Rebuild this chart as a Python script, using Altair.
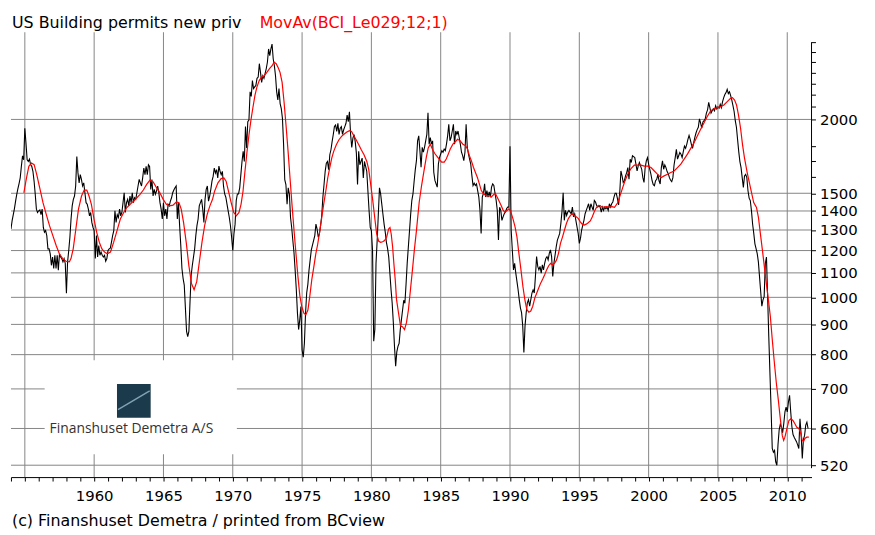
import altair as alt
import pandas as pd

# ---------------- data ----------------
START_YEAR = 1954  # monthly series, first value = Jan 1954

permits_1954_1963 = [
    1305, 1348, 1380, 1413, 1455, 1494, 1527, 1558, 1593, 1666, 1735, 1709,
    1933, 1822, 1709, 1698, 1713, 1677, 1666, 1634, 1573, 1494, 1410, 1392,
    1401, 1406, 1380, 1410, 1313, 1289, 1297, 1272, 1208, 1208, 1185, 1133,
    1170, 1119, 1178, 1119, 1178, 1112, 1185, 1170, 1163, 1148, 1163, 1141,
    1016, 1148, 1200, 1264, 1357, 1428, 1465, 1484, 1543, 1731, 1624, 1562,
    1613, 1583, 1543, 1562, 1503, 1446, 1437, 1410, 1374, 1392, 1339, 1313,
    1297, 1163, 1272, 1170, 1224, 1178, 1193, 1178, 1170, 1178, 1151, 1163,
    1200, 1208, 1211, 1240, 1272, 1297, 1401, 1339, 1380, 1365, 1410, 1374,
    1392, 1446, 1503, 1392, 1446, 1465, 1428, 1484, 1446, 1503, 1446, 1474,
    1465, 1503, 1543, 1583, 1562, 1543, 1593, 1655, 1613, 1666, 1613, 1677,
]
permits_1964_1973 = [
    1666, 1523, 1583, 1484, 1523, 1494, 1513, 1543, 1503, 1446, 1410, 1357,
    1446, 1374, 1410, 1357, 1437, 1428, 1455, 1474, 1503, 1519, 1533, 1543,
    1357, 1446, 1322, 1224, 1119, 1077, 1049, 959, 876, 858, 876, 984,
    1091, 1133, 1170, 1208, 1272, 1322, 1357, 1428, 1446, 1465, 1410, 1339,
    1465, 1523, 1543, 1455, 1484, 1523, 1573, 1602, 1655, 1623, 1645, 1592,
    1667, 1634, 1613, 1634, 1542, 1496, 1477, 1438, 1401, 1365, 1322, 1264,
    1200, 1280, 1330, 1458, 1496, 1496, 1532, 1613, 1698, 1766, 1698, 1945,
    1790, 1983, 1995, 2227, 2187, 2327, 2256, 2270, 2283, 2347, 2359, 2485,
    2402, 2311, 2371, 2347, 2392, 2438, 2501, 2632, 2565, 2632, 2682, 2533,
    2466, 2371, 2227, 2157, 2255, 2127, 2086, 2008, 1812, 1582, 1552, 1438,
]
permits_1974_1983 = [
    1532, 1496, 1365, 1313, 1248, 1190, 1112, 1031, 940, 882, 917, 965,
    815, 792, 836, 940, 1018, 1052, 1112, 1157, 1203, 1226, 1248, 1272,
    1330, 1305, 1264, 1280, 1322, 1374, 1477, 1552, 1634, 1687, 1698, 1645,
    1743, 1777, 1834, 1886, 1945, 1957, 1909, 1970, 1886, 1933, 1945, 1886,
    1921, 1945, 1970, 2034, 1983, 2061, 1886, 1794, 1859, 1886, 1834, 1754,
    1552, 1766, 1676, 1698, 1720, 1592, 1698, 1665, 1634, 1512, 1401, 1313,
    1297, 1200, 843, 882, 1142, 1248, 1382, 1532, 1496, 1438, 1382, 1330,
    1289, 1239, 1210, 1171, 1099, 1031, 977, 906, 826, 765, 809, 826,
    836, 882, 917, 952, 989, 977, 1052, 1142, 1218, 1297, 1382, 1458,
    1496, 1572, 1645, 1703, 1840, 1876, 1771, 1660, 1794, 1760, 1794, 1840,
]
permits_1984_1993 = [
    1887, 2052, 1816, 1864, 1816, 1840, 1628, 1577, 1556, 1536, 1681, 1725,
    1748, 1771, 1760, 1782, 1771, 1816, 1876, 1962, 1840, 1864, 1912, 1962,
    1816, 1912, 1887, 1912, 1864, 1816, 1760, 1737, 1703, 1760, 1962, 1794,
    1748, 1714, 1681, 1607, 1546, 1560, 1546, 1556, 1516, 1478, 1403, 1283,
    1478, 1500, 1556, 1478, 1516, 1478, 1508, 1478, 1536, 1556, 1546, 1500,
    1459, 1403, 1250, 1421, 1403, 1350, 1368, 1385, 1394, 1412, 1421, 1421,
    1801, 1300, 1203, 1113, 1142, 1099, 1064, 1030, 991, 960, 942, 895,
    807, 895, 942, 979, 991, 966, 991, 1017, 1030, 1017, 1085, 1172,
    1128, 1113, 1128, 1099, 1135, 1113, 1142, 1164, 1172, 1157, 1187, 1203,
    1172, 1085, 1142, 1179, 1218, 1250, 1266, 1283, 1333, 1398, 1503, 1350,
]
permits_1994_2003 = [
    1403, 1376, 1394, 1403, 1394, 1385, 1421, 1368, 1385, 1350, 1316, 1283,
    1234, 1258, 1300, 1325, 1350, 1385, 1403, 1421, 1440, 1403, 1440, 1421,
    1403, 1459, 1450, 1430, 1421, 1430, 1421, 1394, 1421, 1403, 1421, 1412,
    1421, 1403, 1440, 1421, 1440, 1450, 1478, 1500, 1500, 1469, 1433, 1505,
    1636, 1605, 1565, 1575, 1605, 1626, 1658, 1584, 1713, 1691, 1736, 1730,
    1724, 1680, 1636, 1669, 1691, 1669, 1647, 1594, 1565, 1658, 1702, 1724,
    1680, 1647, 1615, 1575, 1551, 1545, 1575, 1584, 1615, 1575, 1555, 1658,
    1702, 1647, 1675, 1658, 1632, 1619, 1594, 1578, 1570, 1594, 1675, 1724,
    1780, 1713, 1736, 1758, 1747, 1724, 1764, 1803, 1787, 1815, 1850, 1879,
    1850, 1815, 1787, 1827, 1865, 1897, 1922, 1940, 2005, 1972, 1934, 1980,
]
permits_2004_2011 = [
    1990, 2005, 2050, 2076, 2138, 2094, 2050, 2068, 2084, 2068, 2110, 2084,
    2100, 2089, 2121, 2094, 2144, 2177, 2204, 2220, 2249, 2212, 2228, 2194,
    2157, 2110, 2063, 1990, 1940, 1850, 1764, 1697, 1658, 1594, 1535, 1605,
    1615, 1594, 1515, 1472, 1458, 1402, 1331, 1283, 1232, 1209, 1186, 1148,
    1083, 1022, 966, 990, 1003, 1141, 1170, 1003, 859, 745, 648, 555,
    547, 551, 527, 520, 564, 597, 610, 603, 590, 612, 640, 652,
    640, 665, 683, 640, 604, 586, 580, 575, 570, 563, 555, 623,
    588, 534, 575, 584, 608, 615, 600,
]

# 12-month moving average line, read as (year, value) points
movav_year = [
    1954.93, 1955.12, 1955.29, 1955.48, 1955.67, 1955.86, 1956.07, 1956.31, 1956.54, 1956.78,
    1957.02, 1957.26, 1957.49, 1957.73, 1957.97, 1958.21, 1958.33, 1958.49, 1958.68, 1958.87,
    1959.09, 1959.28, 1959.47, 1959.63, 1959.80, 1959.99, 1960.18, 1960.37, 1960.56, 1960.75,
    1960.94, 1961.18, 1961.41, 1961.65, 1961.89, 1962.13, 1962.36, 1962.60, 1962.84, 1963.08,
    1963.31, 1963.55, 1963.79, 1964.03, 1964.26, 1964.50, 1964.74, 1964.98, 1965.21, 1965.45,
    1965.69, 1965.93, 1966.12, 1966.28, 1966.45, 1966.64, 1966.83, 1967.02, 1967.21, 1967.40,
    1967.59, 1967.78, 1967.97, 1968.16, 1968.35, 1968.54, 1968.69, 1968.93, 1969.16, 1969.36,
    1969.52, 1969.69, 1969.88, 1970.07, 1970.26, 1970.45, 1970.60, 1970.74, 1970.88, 1971.03,
    1971.17, 1971.31, 1971.46, 1971.60, 1971.74, 1971.91, 1972.08, 1972.27, 1972.46, 1972.65,
    1972.84, 1972.98, 1973.13, 1973.27, 1973.41, 1973.56, 1973.70, 1973.84, 1973.99, 1974.13,
    1974.27, 1974.42, 1974.56, 1974.70, 1974.84, 1974.99, 1975.13, 1975.27, 1975.42, 1975.56,
    1975.70, 1975.85, 1975.99, 1976.13, 1976.28, 1976.42, 1976.56, 1976.71, 1976.85, 1976.99,
    1977.14, 1977.28, 1977.47, 1977.66, 1977.85, 1978.04, 1978.23, 1978.42, 1978.57, 1978.71,
    1978.90, 1979.09, 1979.28, 1979.47, 1979.67, 1979.81, 1979.95, 1980.10, 1980.24, 1980.38,
    1980.53, 1980.67, 1980.81, 1980.95, 1981.10, 1981.24, 1981.34, 1981.43, 1981.53, 1981.62,
    1981.72, 1981.81, 1981.96, 1982.10, 1982.24, 1982.39, 1982.53, 1982.67, 1982.82, 1982.96,
    1983.10, 1983.25, 1983.45, 1983.62, 1983.80, 1983.96, 1984.10, 1984.25, 1984.45, 1984.60,
    1984.79, 1984.93, 1985.07, 1985.26, 1985.40, 1985.55, 1985.69, 1985.88, 1986.07, 1986.21,
    1986.40, 1986.60, 1986.79, 1986.93, 1987.07, 1987.21, 1987.36, 1987.50, 1987.64, 1987.79,
    1987.93, 1988.07, 1988.21, 1988.36, 1988.50, 1988.64, 1988.79, 1988.93, 1989.07, 1989.21,
    1989.36, 1989.50, 1989.64, 1989.79, 1989.93, 1990.07, 1990.21, 1990.36, 1990.50, 1990.64,
    1990.79, 1990.93, 1991.07, 1991.21, 1991.36, 1991.50, 1991.64, 1991.79, 1991.93, 1992.07,
    1992.21, 1992.36, 1992.50, 1992.64, 1992.79, 1992.93, 1993.07, 1993.21, 1993.36, 1993.50,
    1993.64, 1993.79, 1993.93, 1994.07, 1994.21, 1994.36, 1994.50, 1994.64, 1994.79, 1994.93,
    1995.07, 1995.21, 1995.36, 1995.50, 1995.64, 1995.79, 1995.93, 1996.07, 1996.21, 1996.36,
    1996.50, 1996.64, 1996.79, 1996.93, 1997.07, 1997.21, 1997.36, 1997.54, 1997.78, 1998.01,
    1998.25, 1998.49, 1998.73, 1998.97, 1999.21, 1999.45, 1999.69, 1999.93, 2000.17, 2000.41,
    2000.65, 2000.89, 2001.12, 2001.36, 2001.60, 2001.84, 2002.08, 2002.32, 2002.56, 2002.80,
    2003.04, 2003.28, 2003.52, 2003.76, 2003.99, 2004.23, 2004.47, 2004.71, 2004.95, 2005.19,
    2005.43, 2005.67, 2005.91, 2006.05, 2006.20, 2006.34, 2006.48, 2006.63, 2006.77, 2006.91,
    2007.11, 2007.34, 2007.58, 2007.78, 2007.92, 2008.06, 2008.21, 2008.35, 2008.49, 2008.64,
    2008.78, 2008.92, 2009.07, 2009.21, 2009.35, 2009.50, 2009.64, 2009.74, 2009.83, 2009.98,
    2010.12, 2010.26, 2010.41, 2010.55, 2010.69, 2010.84, 2010.98, 2011.08, 2011.17, 2011.27,
    2011.41, 2011.56,
]
movav_value = [
    1503, 1593, 1666, 1688, 1677, 1613, 1533, 1446, 1383, 1322,
    1272, 1224, 1185, 1163, 1151, 1148, 1163, 1208, 1305, 1410,
    1484, 1519, 1519, 1484, 1437, 1357, 1289, 1240, 1208, 1193,
    1185, 1193, 1240, 1297, 1357, 1392, 1419, 1437, 1455, 1474,
    1494, 1519, 1553, 1579, 1567, 1533, 1503, 1465, 1437, 1428,
    1432, 1450, 1446, 1410, 1339, 1240, 1133, 1056, 1030, 1063,
    1148, 1240, 1322, 1383, 1428, 1465, 1512, 1562, 1588, 1592,
    1572, 1512, 1448, 1392, 1374, 1392, 1438, 1512, 1634, 1766,
    1884, 1995, 2099, 2197, 2268, 2327, 2359, 2371, 2402, 2438,
    2466, 2501, 2485, 2449, 2402, 2310, 2141, 1957, 1766, 1592,
    1438, 1297, 1185, 1085, 1006, 962, 940, 934, 952, 1006,
    1071, 1127, 1185, 1231, 1297, 1365, 1438, 1512, 1592, 1655,
    1720, 1766, 1812, 1848, 1872, 1890, 1904, 1914, 1909, 1880,
    1848, 1812, 1775, 1743, 1698, 1645, 1552, 1458, 1365, 1280,
    1244, 1239, 1242, 1248, 1264, 1305, 1313, 1280, 1218, 1142,
    1071, 993, 940, 894, 892, 882, 906, 952, 1031, 1112,
    1203, 1297, 1450, 1545, 1640, 1725, 1790, 1816, 1771, 1748,
    1725, 1708, 1694, 1694, 1714, 1748, 1782, 1816, 1835, 1851,
    1840, 1816, 1805, 1782, 1737, 1703, 1660, 1628, 1597, 1556,
    1516, 1500, 1490, 1484, 1488, 1478, 1490, 1500, 1478, 1455,
    1430, 1405, 1392, 1403, 1412, 1392, 1359, 1317, 1266, 1187,
    1113, 1043, 991, 954, 944, 948, 966, 998, 1017, 1037,
    1057, 1074, 1092, 1113, 1131, 1142, 1135, 1142, 1157, 1187,
    1234, 1266, 1300, 1333, 1359, 1376, 1385, 1376, 1368, 1359,
    1342, 1330, 1325, 1330, 1337, 1347, 1368, 1394, 1416, 1430,
    1430, 1421, 1421, 1424, 1421, 1421, 1424, 1420, 1447, 1504,
    1564, 1615, 1652, 1674, 1674, 1674, 1667, 1667, 1658, 1636,
    1615, 1594, 1605, 1615, 1626, 1636, 1658, 1680, 1713, 1747,
    1787, 1827, 1876, 1927, 1972, 2023, 2068, 2084, 2094, 2102,
    2116, 2144, 2171, 2177, 2157, 2116, 2036, 1934, 1815, 1724,
    1626, 1535, 1447, 1420, 1366, 1282, 1201, 1126, 1056, 990,
    928, 848, 775, 717, 672, 623, 584, 573, 580, 600,
    619, 623, 619, 611, 603, 600, 588, 573, 570, 577,
    580, 580,
]

x_grid_years = [1955, 1960, 1965, 1970, 1975, 1980, 1985, 1990, 1995, 2000, 2005, 2010]
x_tick_years = list(range(1954, 2012))
y_labeled = [520, 600, 700, 800, 900, 1000, 1100, 1200, 1300, 1400, 1500, 2000]
y_minor = [1600, 1700, 1800, 2100, 2200, 2300, 2400, 2500, 2600, 2700]

title_black = "US Building permits new priv"
title_red = "MovAv(BCI_Le029;12;1)"
footer = "(c) Finanshuset Demetra  / printed from BCview"
logo_text = "Finanshuset Demetra A/S"

# ---------------- build frames ----------------
permits = (permits_1954_1963 + permits_1964_1973 + permits_1974_1983 +
           permits_1984_1993 + permits_1994_2003 + permits_2004_2011)
df_black = pd.DataFrame({"t": [START_YEAR + i / 12 for i in range(len(permits))], "v": permits})
df_red = pd.DataFrame({"t": movav_year, "v": movav_value})

W, H = 808, 449
FONT = "DejaVu Sans"
GRID = "#858585"
xs = alt.Scale(domain=[1954.0, 2011.75], nice=False, zero=False)
ys = alt.Scale(type="log", domain=[496.5, 2809], nice=False)

lab_list = ",".join(str(v) for v in y_labeled)

x_axis = alt.Axis(
    values=x_tick_years, format="d",
    labelExpr="datum.value % 5 == 0 && datum.value >= 1960 ? datum.label : ''",
    grid=False, domainColor="black", tickColor="black", tickSize=4,
    labelFont=FONT, labelFontSize=15, labelColor="black", labelPadding=8,
    labelFlush=False, labelOverlap=False, title=None)
y_axis = alt.Axis(
    orient="right", values=y_labeled + y_minor, format="d",
    labelExpr="indexof([" + lab_list + "], datum.value) >= 0 ? datum.label : ''",
    grid=False, domain=False, tickColor="black", tickSize=4,
    labelFont=FONT, labelFontSize=15, labelColor="black", labelPadding=4,
    labelOverlap=False, labelFlush=False, title=None)

X = alt.X("t:Q", scale=xs, axis=x_axis)
Y = alt.Y("v:Q", scale=ys, axis=y_axis)

grid_x = alt.Chart(pd.DataFrame({"t": x_grid_years})).mark_rule(color=GRID, strokeWidth=1).encode(x=X)
grid_y = alt.Chart(pd.DataFrame({"v": y_labeled})).mark_rule(color=GRID, strokeWidth=1).encode(y=Y)

one = pd.DataFrame({"k": [0]})
logo_bg = alt.Chart(one).mark_rect(color="white").encode(
    x=alt.value(34), x2=alt.value(228), y=alt.value(331), y2=alt.value(426))
logo_icon = alt.Chart(one).mark_rect(color="#1b3a4b").encode(
    x=alt.value(107), x2=alt.value(141), y=alt.value(355), y2=alt.value(389))
logo_line = alt.Chart(one).mark_rule(color="#7fa3b5", strokeWidth=1.5).encode(
    x=alt.value(108), x2=alt.value(140), y=alt.value(381), y2=alt.value(362))
logo_txt = alt.Chart(pd.DataFrame({"s": [logo_text]})).mark_text(
    align="left", baseline="middle", font="Open Sans", fontSize=14, color="#333333").encode(
    x=alt.value(39), y=alt.value(400), text="s:N")

black = alt.Chart(df_black).mark_line(color="black", strokeWidth=1.1, clip=True).encode(x=X, y=Y)
red = alt.Chart(df_red).mark_line(color="#ff0000", strokeWidth=1.2, clip=True).encode(x=X, y=Y)

right_axis = alt.Chart(one).mark_rule(color="black", strokeWidth=1).encode(
    x=alt.value(W), y=alt.value(10), y2=alt.value(440))

t1 = alt.Chart(pd.DataFrame({"s": [title_black]})).mark_text(
    align="left", baseline="middle", font=FONT, fontSize=16, color="black").encode(
    x=alt.value(1), y=alt.value(-9), text="s:N")
t2 = alt.Chart(pd.DataFrame({"s": [title_red]})).mark_text(
    align="left", baseline="middle", font=FONT, fontSize=16, color="#ff0000").encode(
    x=alt.value(251), y=alt.value(-9), text="s:N")
t3 = alt.Chart(pd.DataFrame({"s": [footer]})).mark_text(
    align="left", baseline="middle", font=FONT, fontSize=16, color="black").encode(
    x=alt.value(1), y=alt.value(493), text="s:N")

chart = alt.layer(
    grid_x, grid_y, logo_bg, logo_icon, logo_line, logo_txt, black, red, right_axis, t1, t2, t3
).properties(
    width=W, height=H,
    padding={"left": 3, "top": 22, "right": 56, "bottom": 56},
    autosize=alt.AutoSizeParams(type="none"),
    background="white",
).configure_view(stroke=None)

chart.save("out.html", embed_options={"renderer": "svg", "actions": False})
